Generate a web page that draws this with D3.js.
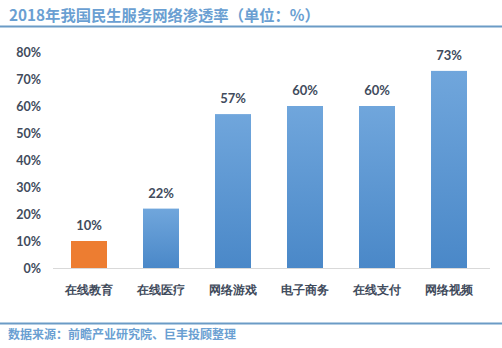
<!DOCTYPE html>
<html>
<head>
<meta charset="utf-8">
<script src="https://cdn.jsdelivr.net/npm/d3@7/dist/d3.min.js"></script>
<style>
  body { margin: 0; background: #fff; }
  svg { display: block; font-family: "Noto Sans CJK SC", "Microsoft YaHei", sans-serif; }
</style>
</head>
<body>
<svg id="chart" width="502" height="348"></svg>
<script>
const categories = ["在线教育", "在线医疗", "网络游戏", "电子商务", "在线支付", "网络视频"];
const values = [10, 22, 57, 60, 60, 73];
const tickValues = [0, 10, 20, 30, 40, 50, 60, 70, 80];
const titleText = "2018年我国民生服务网络渗透率（单位：%）";
const sourceText = "数据来源：前瞻产业研究院、巨丰投顾整理";

const svg = d3.select("#chart");
const W = 502;
const plotBottom = 268;

const x = d3.scaleBand().domain(categories).range([53, 485]).paddingInner(0.5).paddingOuter(0.25);
const y = d3.scaleLinear().domain([0, 80]).range([plotBottom, 52]);

// vertical gradient for the blue bars
const defs = svg.append("defs");
const grad = defs.append("linearGradient").attr("id", "blueGrad")
  .attr("x1", 0).attr("y1", 0).attr("x2", 0).attr("y2", 1);
grad.append("stop").attr("offset", "0%").attr("stop-color", "#70a6dc");
grad.append("stop").attr("offset", "100%").attr("stop-color", "#4a88c8");

// title and rules
svg.append("text").attr("x", 9).attr("y", 21)
  .attr("fill", "#6a9fd2").attr("font-size", 15.3).attr("font-weight", "bold")
  .text(titleText);
svg.append("line").attr("x1", 0).attr("x2", W).attr("y1", 26.5).attr("y2", 26.5)
  .attr("stroke", "#6b9bc6").attr("stroke-width", 2);
svg.append("line").attr("x1", 0).attr("x2", W).attr("y1", 323.5).attr("y2", 323.5)
  .attr("stroke", "#6b9bc6").attr("stroke-width", 2);
svg.append("text").attr("x", 8).attr("y", 339)
  .attr("fill", "#6a9fd2").attr("font-size", 12).attr("font-weight", "bold")
  .text(sourceText);

// y axis labels
const yAxis = d3.axisLeft(y).tickValues(tickValues).tickFormat(d => d + "%").tickSize(0).tickPadding(0);
const yg = svg.append("g").attr("transform", "translate(41,0)").call(yAxis);
yg.select(".domain").remove();
yg.selectAll("text").attr("fill", "#414b5c").attr("font-size", 12.5).attr("font-weight", "bold")
  .attr("font-family", "Lato, 'Noto Sans CJK SC', sans-serif");

// baseline
svg.append("line").attr("x1", 53).attr("x2", 490).attr("y1", plotBottom + 0.5).attr("y2", plotBottom + 0.5)
  .attr("stroke", "#d9d9d9").attr("stroke-width", 1);

// category labels
const xAxis = d3.axisBottom(x).tickSize(0).tickPadding(0);
const xg = svg.append("g").attr("transform", `translate(0,${plotBottom})`).call(xAxis);
xg.select(".domain").remove();
xg.selectAll("text").attr("dy", null).attr("y", 26).attr("fill", "#414b5c")
  .attr("font-size", 12).attr("font-weight", "bold");

// bars
svg.append("g").selectAll("rect").data(categories).join("rect")
  .attr("x", d => x(d))
  .attr("width", x.bandwidth())
  .attr("y", (d, i) => y(values[i]))
  .attr("height", (d, i) => y(0) - y(values[i]))
  .attr("fill", (d, i) => i === 0 ? "#ed7d31" : "url(#blueGrad)");

// value labels
svg.append("g").selectAll("text").data(categories).join("text")
  .attr("x", d => x(d) + x.bandwidth() / 2)
  .attr("y", (d, i) => y(values[i]) - 11)
  .attr("text-anchor", "middle")
  .attr("fill", "#414b5c").attr("font-size", 13).attr("font-weight", "bold")
  .attr("font-family", "Lato, 'Noto Sans CJK SC', sans-serif")
  .text((d, i) => values[i] + "%");
</script>
</body>
</html>
